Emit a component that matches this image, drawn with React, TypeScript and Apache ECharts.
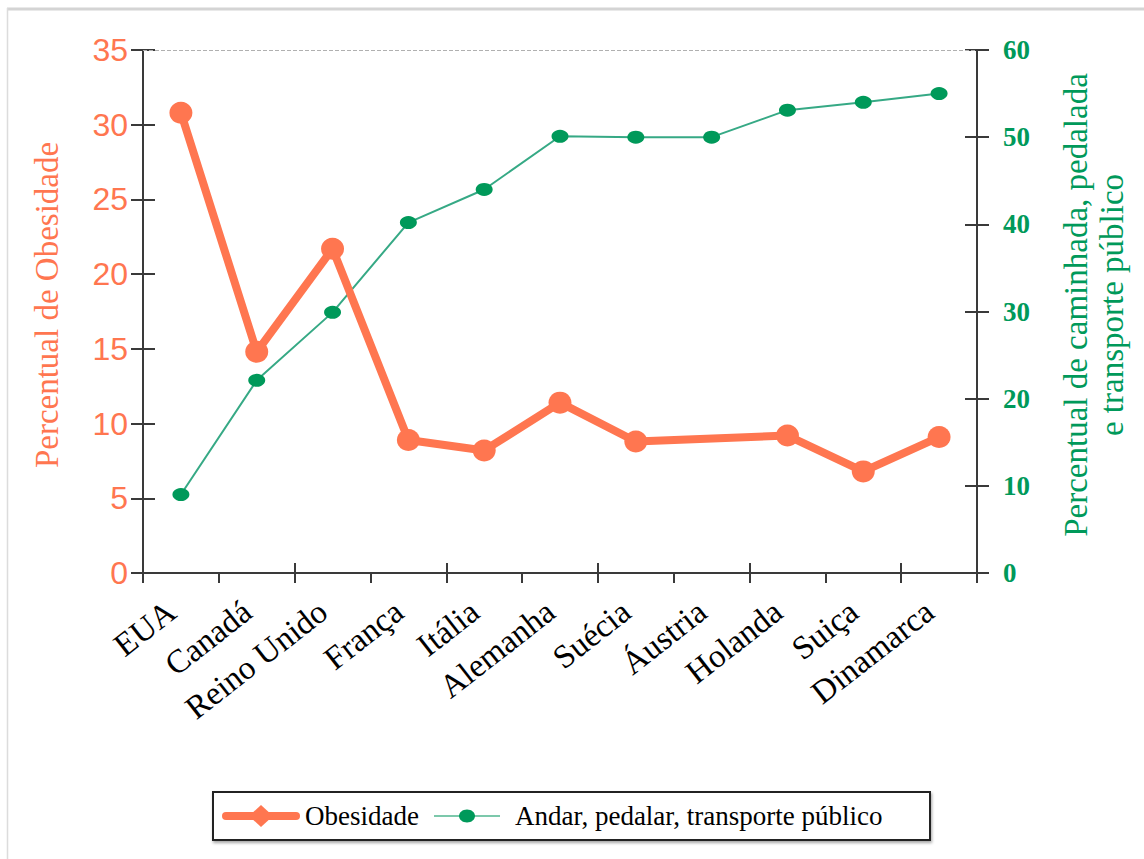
import React, { useEffect, useRef } from "react";
import * as echarts from "echarts";

// Countries along the horizontal axis
const countries = [
  "EUA",
  "Canadá",
  "Reino Unido",
  "França",
  "Itália",
  "Alemanha",
  "Suécia",
  "Áustria",
  "Holanda",
  "Suiça",
  "Dinamarca",
];

// Obesity rate (%), left axis — no value for Áustria
const obesity: (number | null)[] = [30.8, 14.8, 21.7, 8.9, 8.2, 11.4, 8.8, null, 9.2, 6.8, 9.1];

// Share of walking, cycling and public transport (%), right axis
const activeTransport = [9.0, 22.1, 29.9, 40.2, 44.0, 50.1, 50.0, 50.0, 53.1, 54.0, 55.0];

// Axis ranges
const obesityAxis = { min: 0, max: 35, interval: 5 };
const transportAxis = { min: 0, max: 60, interval: 10 };

// Texts
const obesityAxisName = "Percentual de Obesidade";
const transportAxisName = ["Percentual de caminhada, pedalada", "e transporte público"];
const obesitySeriesName = "Obesidade";
const transportSeriesName = "Andar, pedalar, transporte público";

const ORANGE = "#ff7650";
const GREEN = "#00995a";
const GREEN_LINE = "#36a985";
const AXIS = "#3a3a3a";
const SERIF = '"Liberation Serif", serif';

export default function App() {
  const ref = useRef<HTMLDivElement>(null);

  useEffect(() => {
    if (!ref.current) return;
    const chart = echarts.init(ref.current, undefined, { renderer: "svg" });

    const tickStyle = { color: AXIS, width: 2 };

    // vertical axis title, read from bottom to top
    const axisTitle = (text: string, x: number, color: string) => ({
      type: "text",
      x,
      y: 305,
      rotation: Math.PI / 2,
      style: {
        text,
        fill: color,
        font: `33px ${SERIF}`,
        align: "center",
        verticalAlign: "middle",
      },
    });

    chart.setOption({
      animation: false,
      backgroundColor: "#ffffff",
      grid: { left: 143, right: 167, top: 50, bottom: 286, containLabel: false },
      xAxis: [
        {
          type: "category",
          data: countries,
          position: "bottom",
          boundaryGap: true,
          axisLine: { show: true, onZero: false, lineStyle: { color: AXIS, width: 2 } },
          axisTick: { show: true, length: 10, lineStyle: tickStyle },
          axisLabel: {
            interval: 0,
            rotate: 38,
            margin: 27,
            padding: [0, 12, 0, 0],
            color: "#000",
            fontFamily: SERIF,
            fontSize: 33,
          },
          splitLine: { show: false },
        },
        {
          // upper half of the crossing ticks
          type: "category",
          data: countries,
          position: "bottom",
          boundaryGap: true,
          axisLine: { show: false, onZero: false },
          axisTick: { show: true, inside: true, length: 10, lineStyle: tickStyle },
          axisLabel: { show: false },
          splitLine: { show: false },
        },
      ],
      yAxis: [
        {
          type: "value",
          position: "left",
          ...obesityAxis,
          axisLine: { show: true, lineStyle: { color: AXIS, width: 2 } },
          axisTick: { show: true, length: 12, lineStyle: tickStyle },
          axisLabel: { color: ORANGE, fontFamily: "Liberation Sans", fontSize: 32, margin: 15 },
          splitLine: { show: false },
        },
        {
          type: "value",
          position: "right",
          ...transportAxis,
          axisLine: { show: true, lineStyle: { color: AXIS, width: 2 } },
          axisTick: { show: true, length: 12, lineStyle: tickStyle },
          axisLabel: {
            color: GREEN,
            fontFamily: SERIF,
            fontWeight: "bold",
            fontSize: 27,
            margin: 26,
          },
          splitLine: { show: false },
        },
        {
          type: "value",
          position: "left",
          ...obesityAxis,
          axisLine: { show: false },
          axisTick: { show: true, inside: true, length: 12, lineStyle: tickStyle },
          axisLabel: { show: false },
          splitLine: { show: false },
        },
        {
          type: "value",
          position: "right",
          ...transportAxis,
          axisLine: { show: false },
          axisTick: { show: true, inside: true, length: 12, lineStyle: tickStyle },
          axisLabel: { show: false },
          splitLine: { show: false },
        },
      ],
      series: [
        {
          name: transportSeriesName,
          type: "line",
          xAxisIndex: 0,
          yAxisIndex: 1,
          data: activeTransport,
          symbol: "circle",
          symbolSize: [17, 13],
          lineStyle: { color: GREEN_LINE, width: 2 },
          itemStyle: { color: GREEN },
          z: 2,
        },
        {
          name: obesitySeriesName,
          type: "line",
          xAxisIndex: 0,
          yAxisIndex: 0,
          data: obesity,
          connectNulls: true,
          symbol: "circle",
          symbolSize: [23, 22],
          lineStyle: { color: ORANGE, width: 8, cap: "round", join: "round" },
          itemStyle: { color: ORANGE },
          z: 3,
          markLine: {
            silent: true,
            symbol: "none",
            label: { show: false },
            lineStyle: { color: "#b0b0b0", type: [4, 2], width: 1 },
            data: [{ yAxis: obesityAxis.max }],
          },
        },
      ],
      graphic: [
        // page frame
        {
          type: "line",
          shape: { x1: 7, y1: 9, x2: 1144, y2: 9 },
          style: { stroke: "#d4d4d4", lineWidth: 3 },
        },
        {
          type: "line",
          shape: { x1: 7.5, y1: 8, x2: 7.5, y2: 859 },
          style: { stroke: "#dcdcdc", lineWidth: 1.5 },
        },
        // axis titles
        axisTitle(obesityAxisName, 47, ORANGE),
        axisTitle(transportAxisName[0], 1076, GREEN),
        axisTitle(transportAxisName[1], 1112, GREEN),
        // legend box
        {
          type: "rect",
          shape: { x: 213, y: 792, width: 717, height: 48 },
          style: {
            fill: "#ffffff",
            stroke: "#222",
            lineWidth: 2,
            shadowBlur: 3,
            shadowColor: "rgba(0,0,0,0.35)",
            shadowOffsetX: 1,
            shadowOffsetY: 2,
          },
        },
        {
          type: "line",
          shape: { x1: 226, y1: 816, x2: 296, y2: 816 },
          style: { stroke: ORANGE, lineWidth: 8, lineCap: "round" },
        },
        {
          type: "polygon",
          shape: {
            points: [
              [261, 805],
              [273, 816],
              [261, 827],
              [249, 816],
            ],
          },
          style: { fill: ORANGE },
        },
        {
          type: "text",
          x: 305,
          y: 816,
          style: {
            text: obesitySeriesName,
            fill: "#000",
            font: `27px ${SERIF}`,
            align: "left",
            verticalAlign: "middle",
          },
        },
        {
          type: "line",
          shape: { x1: 434, y1: 816, x2: 500, y2: 816 },
          style: { stroke: "#7cc8ab", lineWidth: 2 },
        },
        {
          type: "ellipse",
          shape: { cx: 467, cy: 816, rx: 8, ry: 6.5 },
          style: { fill: GREEN },
        },
        {
          type: "text",
          x: 515,
          y: 816,
          style: {
            text: transportSeriesName,
            fill: "#000",
            font: `27px ${SERIF}`,
            align: "left",
            verticalAlign: "middle",
          },
        },
      ],
    });

    return () => chart.dispose();
  }, []);

  return (
    <div
      ref={ref}
      style={{ position: "absolute", left: 0, top: 0, width: 1144, height: 859, background: "#fff" }}
    />
  );
}
